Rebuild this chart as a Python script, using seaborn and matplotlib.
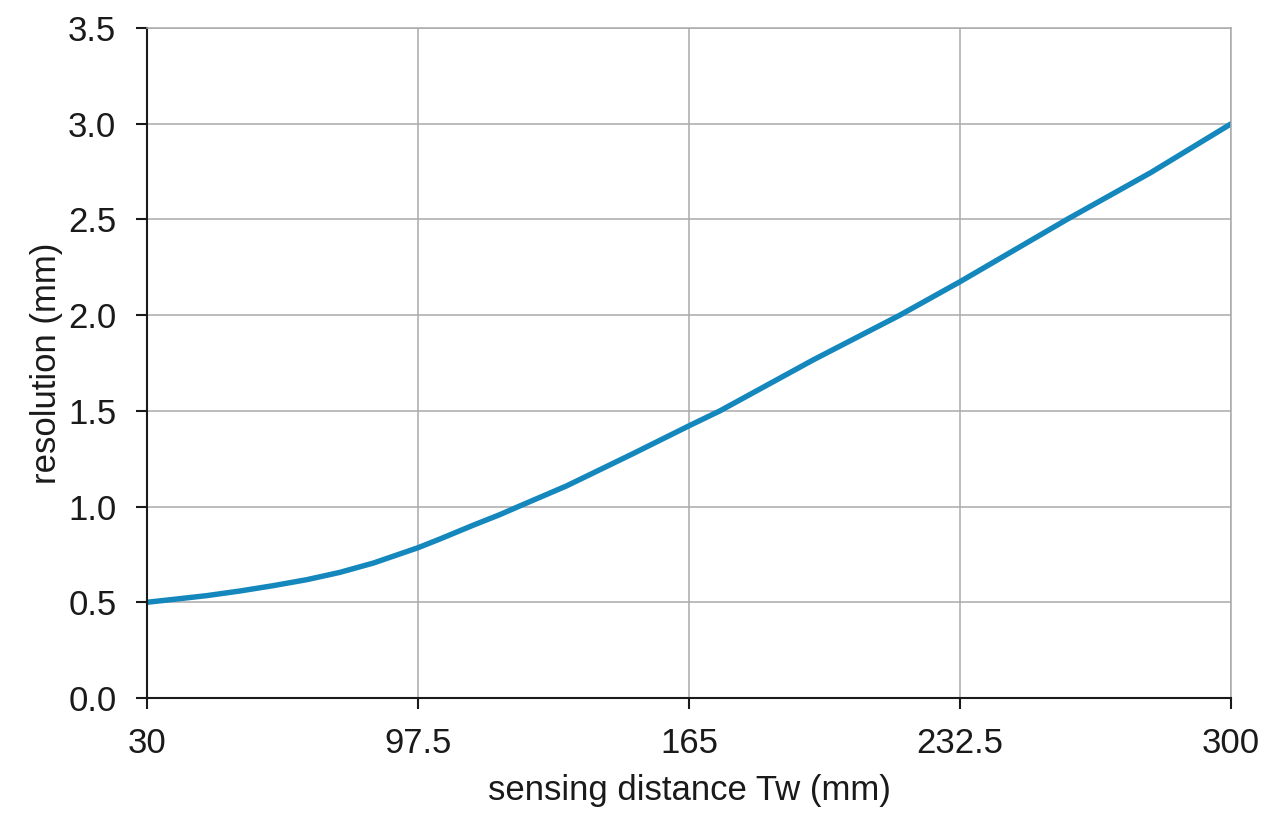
import numpy as np
import pandas as pd
import seaborn as sns
import matplotlib.pyplot as plt

# values
distance = [30, 37.4, 45, 53.2, 61.5, 69.8, 78, 86.4, 97.5, 102.9, 111.3, 117.9, 122.5,
            134.5, 151.1, 165, 172.7, 195.9, 217.5, 232.5, 259.1, 280, 300]
resolution = [0.50, 0.517, 0.535, 0.559, 0.587, 0.618, 0.656, 0.705, 0.785, 0.83, 0.903, 0.958, 1.0,
              1.108, 1.277, 1.422, 1.5, 1.766, 2.0, 2.175, 2.5, 2.745, 3.0]
x_ticks = [30, 97.5, 165, 232.5, 300]
x_labels = ["30", "97.5", "165", "232.5", "300"]
y_ticks = [0.0, 0.5, 1.0, 1.5, 2.0, 2.5, 3.0, 3.5]

df = pd.DataFrame({"distance": distance, "resolution": resolution})

sns.set_style("white")
plt.rcParams["font.family"] = ["Liberation Sans", "DejaVu Sans"]

fig = plt.figure(figsize=(12.8, 8.26), dpi=100)
ax = fig.add_axes([0.1148, 0.155, 0.847, 0.811])

sns.lineplot(data=df, x="distance", y="resolution", ax=ax, color="#1487bd", linewidth=3.9)

ax.set_xlim(30, 300)
ax.set_ylim(0, 3.5)
ax.set_xticks(x_ticks)
ax.set_xticklabels(x_labels)
ax.set_yticks(y_ticks)
ax.set_yticklabels([f"{v:.1f}" for v in y_ticks])

ax.grid(True, color="#aaaaaa", linewidth=1.1)
for side in ["top", "right"]:
    ax.spines[side].set_color("#aaaaaa")
    ax.spines[side].set_linewidth(1.1)
for side in ["left", "bottom"]:
    ax.spines[side].set_color("#1a1a1a")
    ax.spines[side].set_linewidth(1.5)

ax.tick_params(axis="both", direction="out", length=8, width=1.5, color="#1a1a1a",
               labelsize=25, labelcolor="#1a1a1a", bottom=True, left=True)
ax.tick_params(axis="x", pad=13)
ax.tick_params(axis="y", pad=14)
ax.set_xlabel("sensing distance Tw (mm)", fontsize=25, color="#1a1a1a", labelpad=10)
ax.set_ylabel("resolution (mm)", fontsize=25, color="#1a1a1a", labelpad=4)

fig.savefig("out.png", dpi=100)
